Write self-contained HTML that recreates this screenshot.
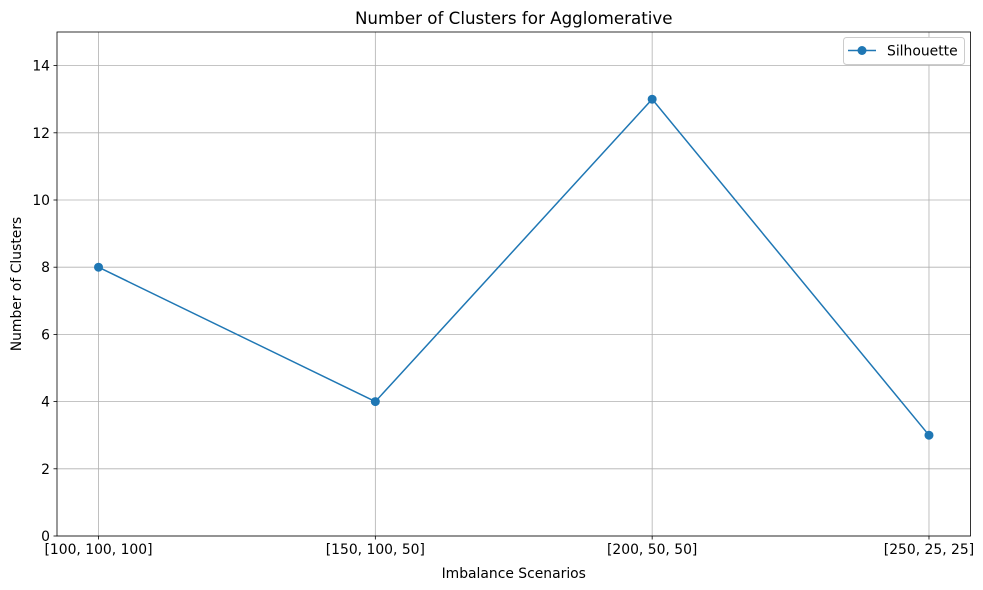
<!DOCTYPE html>
<html><head><meta charset="utf-8"><style>
body{margin:0;background:#fff;}
svg{display:block;font-family:"DejaVu Sans","Liberation Sans",sans-serif;}
</style></head><body>
<svg id="chart" width="983" height="590" xmlns="http://www.w3.org/2000/svg"></svg>
<script>
const categories = ["[100, 100, 100]", "[150, 100, 50]", "[200, 50, 50]", "[250, 25, 25]"];
const silhouetteValues = [8, 4, 13, 3];
const yTicks = [0, 2, 4, 6, 8, 10, 12, 14];

const svg = document.getElementById('chart');
const NS = 'http://www.w3.org/2000/svg';
const L = 57, R = 970.5, T = 32, B = 536;
const xMin = -0.15, xMax = 3.15, yMin = 0, yMax = 15;
const xs = i => L + (i - xMin) / (xMax - xMin) * (R - L);
const ys = v => B - (v - yMin) / (yMax - yMin) * (B - T);
function mk(tag, attrs, parent) {
  const e = document.createElementNS(NS, tag);
  for (const k in attrs) e.setAttribute(k, attrs[k]);
  (parent || svg).appendChild(e);
  return e;
}
mk('rect', {x:0, y:0, width:983, height:590, fill:'#fff'});
const grid = mk('g', {});


categories.forEach((c, i) => {
  const x = xs(i);
  const gl = mk('line', {x1:x, x2:x, y1:T, y2:B, stroke:'#b0b0b0', 'stroke-width':0.8}, grid);
  
  
  mk('line', {x1:x, x2:x, y1:B, y2:B+3.5, stroke:'#000', 'stroke-width':0.8});
  const t = mk('text', {x:x, y:B+18, 'text-anchor':'middle', 'font-size':13.9, fill:'#000'});
  t.textContent = c;
  
  
});
yTicks.forEach(v => {
  const y = ys(v);
  const gl = mk('line', {x1:L, x2:R, y1:y, y2:y, stroke:'#b0b0b0', 'stroke-width':0.8}, grid);
  
  
  mk('line', {x1:L-3.5, x2:L, y1:y, y2:y, stroke:'#000', 'stroke-width':0.8});
  const t = mk('text', {x:L-7, y:y+5, 'text-anchor':'end', 'font-size':13.9, fill:'#000'});
  t.textContent = v;
  
  
});
const frame = mk('rect', {x:L, y:T, width:R-L, height:B-T, fill:'none', stroke:'#000', 'stroke-width':0.8});


const pts = silhouetteValues.map((v, i) => xs(i) + ',' + ys(v)).join(' ');
const line = mk('polyline', {points:pts, fill:'none', stroke:'#1f77b4', 'stroke-width':1.5});


silhouetteValues.forEach((v, i) => {
  const c = mk('circle', {cx:xs(i), cy:ys(v), r:4.5, fill:'#1f77b4'});
  
  
});
const title = mk('text', {x:(L+R)/2, y:24, 'text-anchor':'middle', 'font-size':16.7, fill:'#000'});
title.textContent = 'Number of Clusters for Agglomerative';


const xt = mk('text', {x:(L+R)/2, y:578, 'text-anchor':'middle', 'font-size':13.9, fill:'#000'});
xt.textContent = 'Imbalance Scenarios';


const yt = mk('text', {x:21, y:(T+B)/2, 'text-anchor':'middle', 'font-size':13.9, fill:'#000', transform:'rotate(-90 21 '+((T+B)/2)+')'});
yt.textContent = 'Number of Clusters';


const lg = mk('g', {});


mk('rect', {x:843.5, y:37.5, width:121, height:27, rx:3, fill:'#fff', stroke:'#ccc', 'stroke-width':1}, lg);
mk('line', {x1:848, x2:876, y1:50.5, y2:50.5, stroke:'#1f77b4', 'stroke-width':1.5}, lg);
mk('circle', {cx:862, cy:50.5, r:4.5, fill:'#1f77b4'}, lg);
const lt = mk('text', {x:887, y:55.5, 'font-size':13.9, fill:'#000'}, lg);
lt.textContent = 'Silhouette';


</script>
</body></html>
